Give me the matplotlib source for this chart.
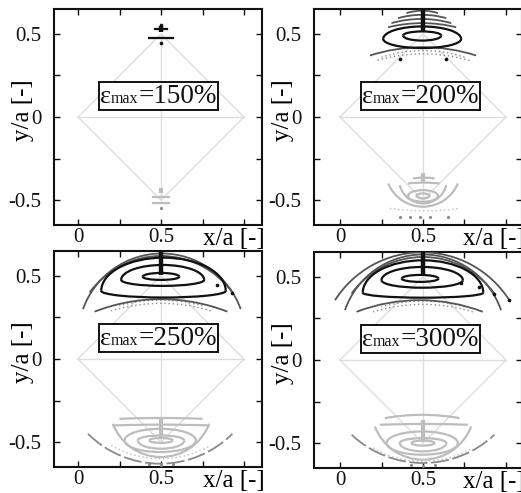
import math
import matplotlib
matplotlib.use("Agg")
import matplotlib.pyplot as plt
from matplotlib.patches import Arc
from matplotlib.offsetbox import TextArea, HPacker, AnnotationBbox

plt.rcParams['font.family'] = ['Liberation Serif', 'DejaVu Serif']
plt.rcParams['mathtext.fontset'] = 'stix'

# ---------------- data ----------------
strain_labels = ['150%', '200%', '250%', '300%']
x_tick_values = [0, 0.25, 0.5, 0.75, 1.0]
x_tick_labels = ['0', '', '0.5', '', '']
y_tick_values = [-0.5, -0.25, 0, 0.25, 0.5]
y_tick_labels = ['-0.5', '', '0', '', '0.5']

# unit cell (diamond) and its diagonals
diamond_x = [0, 0.5, 1, 0.5, 0]
diamond_y = [0, 0.5, 0, -0.5, 0]
diag_h = [(0, 0), (1, 0)]
diag_v = [(0.5, -0.5), (0.5, 0.5)]

# closed loops: (x_left, x_right, y_side, y_top, y_bottom)
top_loops = [
    [],
    [(0.38, 0.61, 0.49, 0.515, 0.46), (0.26, 0.73, 0.47, 0.545, 0.415)],
    [(0.39, 0.61, 0.495, 0.518, 0.476), (0.26, 0.76, 0.476, 0.566, 0.44),
     (0.14, 0.89, 0.41, 0.61, 0.37)],
    [(0.372, 0.593, 0.49, 0.512, 0.47), (0.25, 0.74, 0.48, 0.56, 0.435),
     (0.137, 0.863, 0.405, 0.60, 0.375)],
]
# open arcs: (x_left, x_right, y_end, y_apex)
top_arcs = [
    [],
    [(0.40, 0.59, 0.625, 0.64), (0.35, 0.64, 0.595, 0.615),
     (0.31, 0.67, 0.565, 0.59), (0.29, 0.70, 0.54, 0.565)],
    [(0.07, 0.93, 0.40, 0.62), (0.03, 0.98, 0.30, 0.635)],
    [(0.07, 0.93, 0.40, 0.62), (0.03, 0.97, 0.30, 0.635), (-0.03, 1.02, 0.36, 0.648)],
]
top_domes = [
    [],
    [(0.18, 0.82, 0.37, 0.42)],
    [(0.10, 0.90, 0.285, 0.36)],
    [(0.10, 0.86, 0.29, 0.36)],
]
top_dotted = [
    [],
    [(0.25, 0.75, 0.36, 0.40), (0.22, 0.78, 0.34, 0.38)],
    [(0.25, 0.75, 0.32, 0.355), (0.20, 0.80, 0.29, 0.335)],
    [(0.25, 0.75, 0.32, 0.355), (0.20, 0.80, 0.29, 0.335)],
]
top_bar = [(0.51, 0.55), (0.52, 0.65), (0.505, 0.65), (0.505, 0.65)]
top_hlines = [[(0.53, 0.465, 0.535), (0.475, 0.43, 0.57)], [], [], []]
top_dots = [
    [(0.5, 0.555), (0.5, 0.445)],
    [(0.36, 0.35), (0.64, 0.35)],
    [(0.835, 0.446), (0.93, 0.40)],
    [(0.73, 0.466), (0.84, 0.44), (0.93, 0.40), (1.02, 0.36)],
]

bottom_loops = [
    [],
    [(0.46, 0.54, -0.475, -0.46, -0.49), (0.41, 0.59, -0.475, -0.44, -0.51)],
    [(0.43, 0.57, -0.49, -0.475, -0.505), (0.36, 0.64, -0.49, -0.46, -0.54),
     (0.28, 0.71, -0.49, -0.42, -0.56)],
    [(0.43, 0.57, -0.50, -0.485, -0.515), (0.36, 0.64, -0.50, -0.47, -0.55),
     (0.28, 0.71, -0.50, -0.43, -0.57)],
]
bottom_arcs = [
    [],
    [(0.36, 0.64, -0.41, -0.52), (0.29, 0.71, -0.40, -0.54),
     (0.44, 0.57, -0.37, -0.365), (0.41, 0.60, -0.40, -0.395)],
    [(0.21, 0.79, -0.39, -0.59), (0.25, 0.75, -0.36, -0.355),
     (0.21, 0.79, -0.40, -0.395)],
    [(0.21, 0.79, -0.40, -0.60), (0.27, 0.72, -0.35, -0.33),
     (0.24, 0.77, -0.39, -0.385)],
]
bottom_smiles = [
    [],
    [],
    [(0.06, 0.93, -0.45, -0.63)],
    [(0.07, 0.93, -0.45, -0.62)],
]
bottom_dotted = [
    [],
    [(0.30, 0.72, -0.55, -0.565)],
    [(0.20, 0.80, -0.52, -0.60)],
    [(0.20, 0.80, -0.53, -0.61)],
]
bottom_bar = [(-0.46, -0.43), (-0.40, -0.34), (-0.47, -0.36), (-0.48, -0.36)]
bottom_hlines = [[(-0.48, 0.45, 0.55), (-0.52, 0.45, 0.55)], [], [], []]
bottom_dots = [
    [(0.5, -0.55)],
    [(0.36, -0.60), (0.42, -0.60), (0.48, -0.60), (0.54, -0.60), (0.65, -0.60)],
    [(0.43, -0.63), (0.5, -0.635), (0.57, -0.63)],
    [(0.43, -0.63), (0.5, -0.635), (0.57, -0.63)],
]

# ---------------- layout ----------------
W, H = 521, 493
fig = plt.figure(figsize=(W / 100, H / 100), dpi=100)
ppu = 166.0  # pixels per data unit
panel_px = [(54, 9), (314, 9), (54, 251), (314, 252)]  # left, top (pixel)
x_zero_px = [78, 340, 78, 340]
ax_w_px, ax_h_px = 208, 216

BLACK = '#111111'
DARK = '#555555'
MID = '#8a8a8a'
LIGHT = '#bdbdbd'
DIAM = '#dddddd'


def circ_arc(ax, xl, xr, ye, ya, **kw):
    xm = 0.5 * (xl + xr)
    c = 0.5 * (xr - xl)
    s = ya - ye
    R = (c * c + s * s) / (2 * abs(s))
    if s > 0:
        cy = ya - R
        t1 = math.degrees(math.atan2(ye - cy, xr - xm))
        t2 = math.degrees(math.atan2(ye - cy, xl - xm))
    else:
        cy = ya + R
        t1 = math.degrees(math.atan2(ye - cy, xl - xm)) % 360
        t2 = math.degrees(math.atan2(ye - cy, xr - xm)) % 360
    ax.add_patch(Arc((xm, cy), 2 * R, 2 * R, theta1=t1, theta2=t2, **kw))


def loop(ax, xl, xr, ys, yt, yb, **kw):
    xm = 0.5 * (xl + xr)
    w = xr - xl
    ax.add_patch(Arc((xm, ys), w, 2 * (yt - ys), theta1=0, theta2=180, **kw))
    ax.add_patch(Arc((xm, ys), w, 2 * (ys - yb), theta1=180, theta2=360, **kw))


for i in range(4):
    lpx, tpx = panel_px[i]
    ax = fig.add_axes([lpx / W, 1 - (tpx + ax_h_px) / H, ax_w_px / W, ax_h_px / H])
    x0 = -(x_zero_px[i] - lpx) / ppu
    ax.set_xlim(x0, x0 + ax_w_px / ppu)
    ax.set_ylim(-0.65, 0.65)

    # unit cell
    ax.plot(diamond_x, diamond_y, color=DIAM, lw=1.0, zorder=1)
    ax.plot([p[0] for p in diag_h], [p[1] for p in diag_h], color=DIAM, lw=1.0, zorder=1)
    ax.plot([p[0] for p in diag_v], [p[1] for p in diag_v], color=DIAM, lw=1.0, zorder=1)

    # top (black) structures
    for L in top_loops[i]:
        loop(ax, *L, color=BLACK, lw=1.6, zorder=4)
    for A in top_arcs[i]:
        circ_arc(ax, *A, color=DARK, lw=1.3, zorder=3)
    for A in top_domes[i]:
        circ_arc(ax, *A, color=DARK, lw=1.3, zorder=3)
    for A in top_dotted[i]:
        circ_arc(ax, *A, color=MID, lw=1.0, ls=(0, (1, 2)), zorder=2)
    y1, y2 = top_bar[i]
    ax.plot([0.5, 0.5], [y1, y2], color=BLACK, lw=3.2, solid_capstyle='butt', zorder=5)
    for (y, xa, xb) in top_hlines[i]:
        ax.plot([xa, xb], [y, y], color=BLACK, lw=1.6, zorder=5)
    if top_dots[i]:
        ax.scatter([d[0] for d in top_dots[i]], [d[1] for d in top_dots[i]],
                   s=7, color=BLACK, zorder=6, linewidths=0, clip_on=True)

    # bottom (gray) structures
    for L in bottom_loops[i]:
        loop(ax, *L, color=LIGHT, lw=1.6, zorder=4)
    for A in bottom_arcs[i]:
        circ_arc(ax, *A, color=LIGHT, lw=1.6, zorder=3)
    for A in bottom_smiles[i]:
        circ_arc(ax, *A, color=MID, lw=1.3, ls=(0, (10, 2)), zorder=3)
    for A in bottom_dotted[i]:
        circ_arc(ax, *A, color=LIGHT, lw=1.0, ls=(0, (1, 2)), zorder=2)
    y1, y2 = bottom_bar[i]
    ax.plot([0.5, 0.5], [y1, y2], color=LIGHT, lw=3.0, solid_capstyle='butt', zorder=5)
    for (y, xa, xb) in bottom_hlines[i]:
        ax.plot([xa, xb], [y, y], color=LIGHT, lw=1.6, zorder=5)
    if bottom_dots[i]:
        ax.scatter([d[0] for d in bottom_dots[i]], [d[1] for d in bottom_dots[i]],
                   s=5, color=MID, zorder=6, linewidths=0)

    # label box: epsilon with small "max" on the baseline
    parts = [TextArea('ε', textprops=dict(fontsize=19, color=BLACK)),
             TextArea('max', textprops=dict(fontsize=11.5, color=BLACK)),
             TextArea('=' + strain_labels[i], textprops=dict(fontsize=19.5, color=BLACK))]
    pack = HPacker(children=parts, align='baseline', pad=0, sep=0)
    ab = AnnotationBbox(pack, (0.485, 0.125), xycoords='data', frameon=True,
                        box_alignment=(0.5, 0.5), pad=0.1, zorder=10,
                        bboxprops=dict(boxstyle='square,pad=0.1', fc='white',
                                       ec=BLACK, lw=1.4))
    ax.add_artist(ab)

    # axes styling
    ax.set_xticks(x_tick_values)
    ax.set_xticklabels(x_tick_labels)
    ax.set_yticks(y_tick_values)
    ax.set_yticklabels(y_tick_labels)
    ax.tick_params(direction='in', length=4, width=1, labelsize=15, top=True, right=True,
                   pad=2, colors=BLACK)
    ax.tick_params(axis='y', pad=9)
    for sp in ax.spines.values():
        sp.set_linewidth(1.5)
        sp.set_color(BLACK)
    ax.text(-0.149, 0.53, 'y/a [-]', transform=ax.transAxes, rotation=90,
            ha='center', va='center', fontsize=18, clip_on=False)
    ax.text(0.716, -0.015, 'x/a [-]', transform=ax.transAxes, ha='left', va='top',
            fontsize=18, clip_on=False)

fig.savefig('out.png', dpi=100)
